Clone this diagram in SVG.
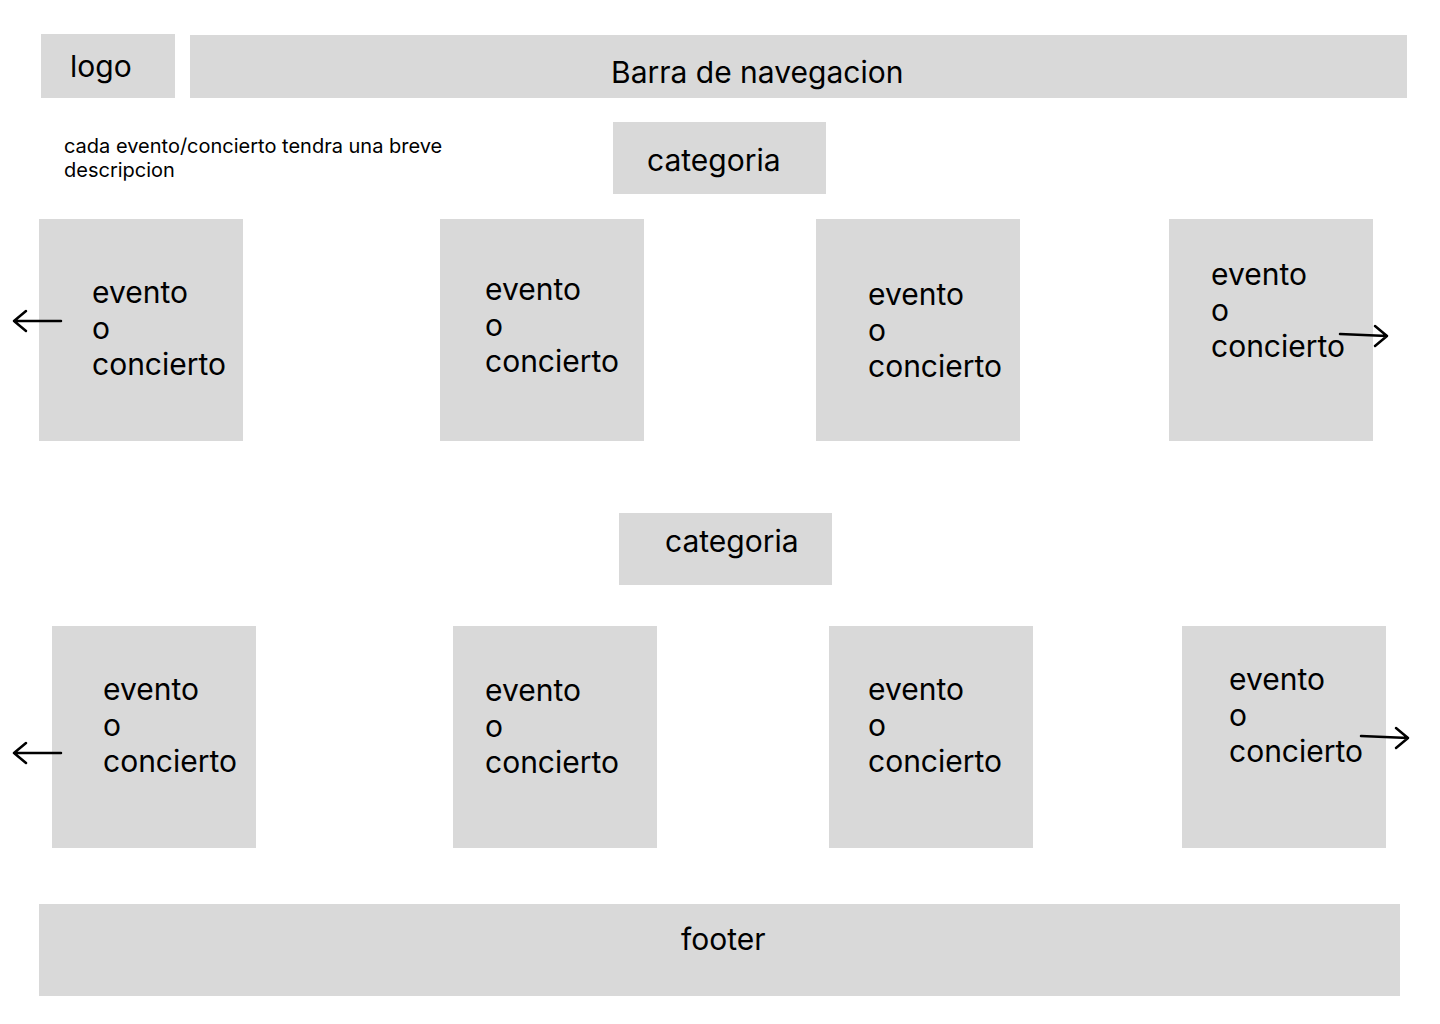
<svg xmlns="http://www.w3.org/2000/svg" width="1440" height="1024" viewBox="0 0 1440 1024">
<style>
.box{fill:#D9D9D9}
text{font-family:Inter,"Noto Sans","Liberation Sans",sans-serif;fill:#000}
.big{font-size:30px}
.small{font-size:20px}
.arr{stroke:#000;stroke-width:2.5;fill:none;stroke-linecap:round;stroke-linejoin:round}
</style>
<rect width="1440" height="1024" fill="#fff"/>
<g id="logo"><rect class="box" x="41" y="34" width="134" height="64"/><text class="big" x="70" y="77">logo</text></g>
<g id="nav"><rect class="box" x="190" y="35" width="1217" height="63"/><text class="big" x="611" y="83">Barra de navegacion</text></g>
<g id="note"><text class="small" x="64" y="153">cada evento/concierto tendra una breve</text><text class="small" x="64" y="177">descripcion</text></g>
<g id="cat1"><rect class="box" x="613" y="122" width="213" height="72"/><text class="big" x="647" y="171">categoria</text></g>
<g id="e1"><rect class="box" x="39" y="219" width="204" height="222"/><text class="big"><tspan x="92" y="303">evento</tspan><tspan x="92" y="339">o</tspan><tspan x="92" y="375">concierto</tspan></text></g>
<g id="e2"><rect class="box" x="440" y="219" width="204" height="222"/><text class="big"><tspan x="485" y="300">evento</tspan><tspan x="485" y="336">o</tspan><tspan x="485" y="372">concierto</tspan></text></g>
<g id="e3"><rect class="box" x="816" y="219" width="204" height="222"/><text class="big"><tspan x="868" y="305">evento</tspan><tspan x="868" y="341">o</tspan><tspan x="868" y="377">concierto</tspan></text></g>
<g id="e4"><rect class="box" x="1169" y="219" width="204" height="222"/><text class="big"><tspan x="1211" y="285">evento</tspan><tspan x="1211" y="321">o</tspan><tspan x="1211" y="357">concierto</tspan></text></g>
<g id="cat2"><rect class="box" x="619" y="513" width="213" height="72"/><text class="big" x="665" y="552">categoria</text></g>
<g id="e5"><rect class="box" x="52" y="626" width="204" height="222"/><text class="big"><tspan x="103" y="700">evento</tspan><tspan x="103" y="736">o</tspan><tspan x="103" y="772">concierto</tspan></text></g>
<g id="e6"><rect class="box" x="453" y="626" width="204" height="222"/><text class="big"><tspan x="485" y="701">evento</tspan><tspan x="485" y="737">o</tspan><tspan x="485" y="773">concierto</tspan></text></g>
<g id="e7"><rect class="box" x="829" y="626" width="204" height="222"/><text class="big"><tspan x="868" y="700">evento</tspan><tspan x="868" y="736">o</tspan><tspan x="868" y="772">concierto</tspan></text></g>
<g id="e8"><rect class="box" x="1182" y="626" width="204" height="222"/><text class="big"><tspan x="1229" y="690">evento</tspan><tspan x="1229" y="726">o</tspan><tspan x="1229" y="762">concierto</tspan></text></g>
<g id="footer"><rect class="box" x="39" y="904" width="1361" height="92"/><text class="big" x="681" y="950">footer</text></g>
<g id="connectors">
<path class="arr" d="M61 321 H14 M26 311 L14 321 L26 331"/>
<path class="arr" d="M1340 334 L1387 336 M1375 326 L1387 336 L1375 346"/>
<path class="arr" d="M61 753 H14 M26 743 L14 753 L26 763"/>
<path class="arr" d="M1361 736 L1408 738 M1396 728 L1408 738 L1396 748"/>
</g>
</svg>
